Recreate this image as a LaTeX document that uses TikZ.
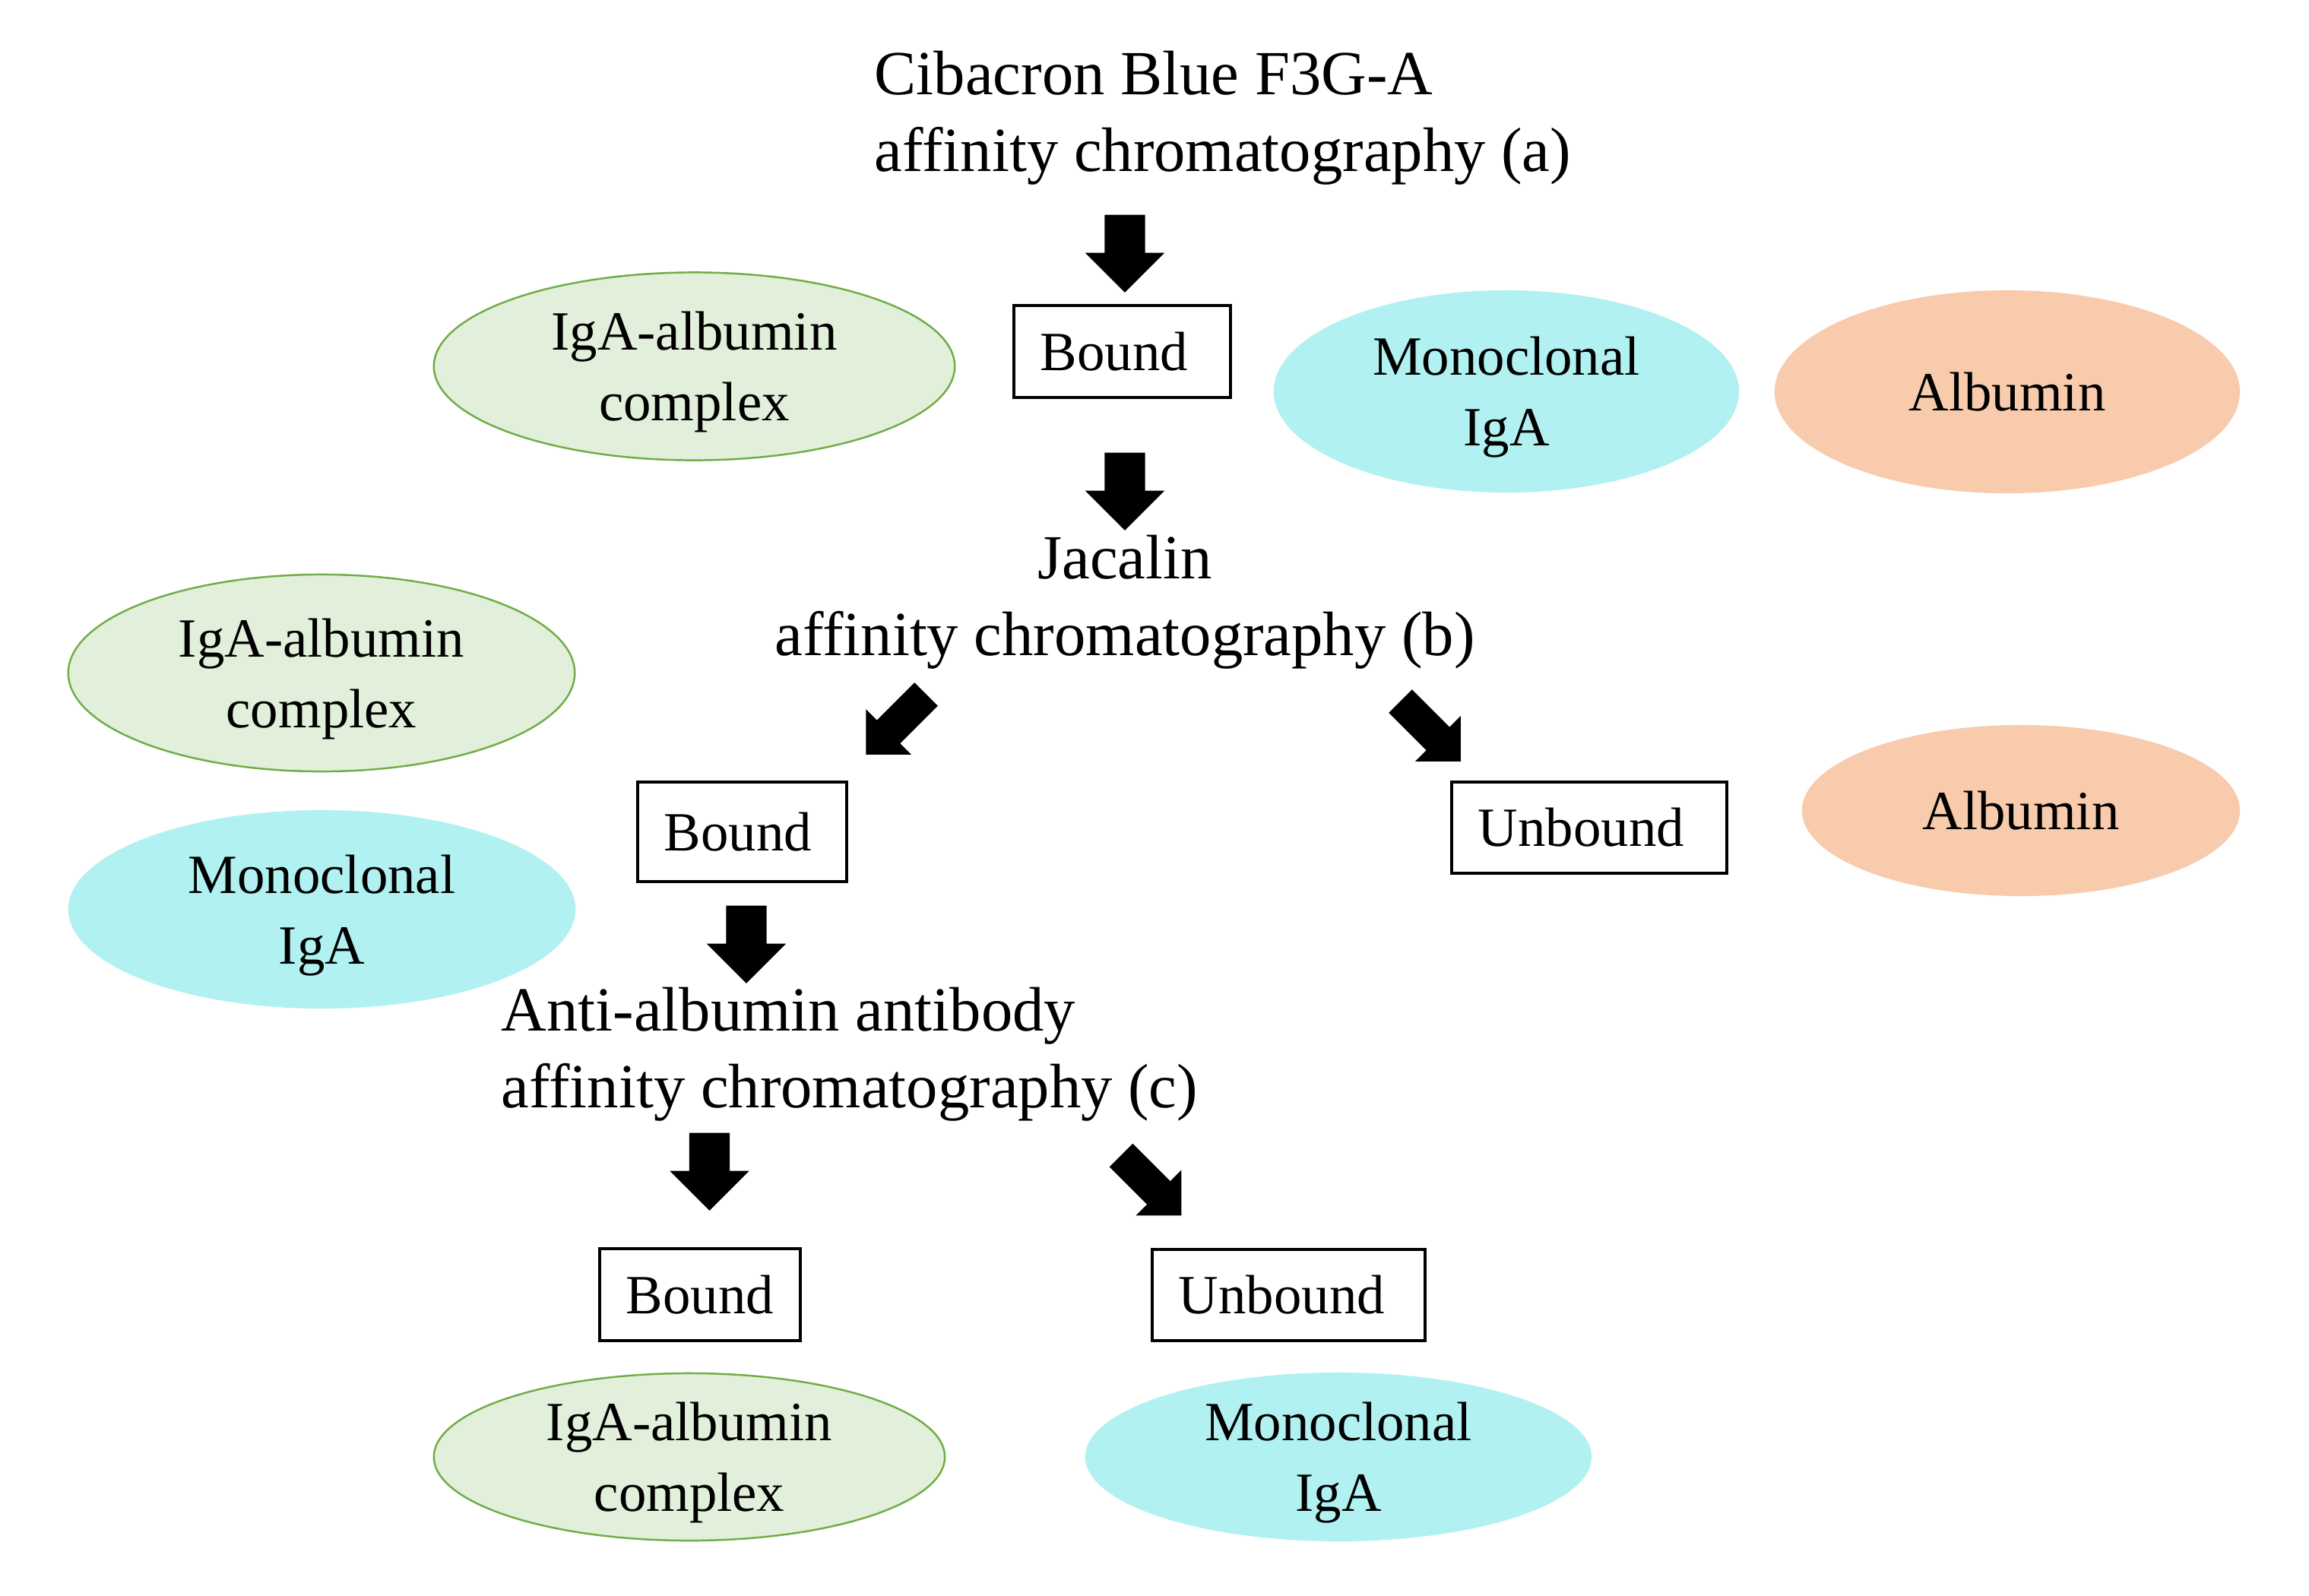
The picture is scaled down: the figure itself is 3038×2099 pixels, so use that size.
\documentclass[tikz,border=0pt]{standalone}
\usepackage{fontspec}
\setmainfont{Liberation Serif}
\usepackage{tikz}
\usetikzlibrary{positioning}
\usetikzlibrary{shapes.geometric,shapes.arrows}

\definecolor{cplxfill}{HTML}{E2EFDA}
\definecolor{cplxline}{HTML}{70AD47}
\definecolor{igafill}{HTML}{B2F1F1}
\definecolor{albfill}{HTML}{F8CBAD}

\begin{document}
\begin{tikzpicture}[x=0.01cm,y=-0.01cm,
  title text/.style={inner sep=0pt,font=\fontsize{23.5}{28.5}\selectfont},
  frac box/.style={draw,line width=1.1pt,inner xsep=0.35cm,inner ysep=0pt,align=left,
    font=\fontsize{20.7}{26.5}\selectfont},
  spot/.style={ellipse,inner sep=0pt,align=center,font=\fontsize{20.7}{26.5}\selectfont},
  cplx/.style={spot,fill=cplxfill,draw=cplxline,line width=0.7pt,text depth=0pt},
  iga/.style={spot,fill=igafill,text depth=0pt},
  alb/.style={spot,fill=albfill},
  down arrow/.style={single arrow,fill=black,draw=none,inner xsep=0pt,inner ysep=0.26cm,
    single arrow head extend=0.255cm,single arrow tip angle=90,single arrow head indent=0pt,
    minimum height=1.02cm,rotate=-90,anchor=tail},
  side arrow/.style={single arrow,fill=black,draw=none,inner xsep=0pt,inner ysep=0.21cm,
    single arrow head extend=0.205cm,single arrow tip angle=90,single arrow head indent=0pt,
    minimum height=1.12cm,rotate=#1,anchor=tail}]
\useasboundingbox (0,0) rectangle (3038,2099);

% column steps (base = last line)
\node[title text,anchor=base west,align=left] at (1150,225) (ColA) {Cibacron Blue F3G-A\\affinity chromatography (a)};
\node[title text,anchor=base,align=center] at (1480,862) (ColB) {Jacalin\\affinity chromatography (b)};
\node[title text,anchor=base west,align=left] at (659,1457) (ColC) {Anti-albumin antibody\\affinity chromatography (c)};

% fractions
\node[frac box,text width=2.15cm,minimum height=1.21cm] at (1476.5,462.5) (Bone) {Bound};
\node[frac box,text width=2.05cm,minimum height=1.31cm] at (976.5,1094.5) (Btwo) {Bound};
\node[frac box,text width=2.92cm,minimum height=1.20cm] at (2091,1089) (Utwo) {Unbound};
\node[frac box,text width=1.94cm,minimum height=1.21cm] at (921,1703.5) (Bthree) {Bound};
\node[frac box,text width=2.89cm,minimum height=1.20cm] at (1695.5,1704) (Uthree) {Unbound};

% contents
\node[cplx,minimum width=6.85cm,minimum height=2.47cm] at (913.5,482) (Cone) {IgA-albumin\\complex};
\node[iga,minimum width=6.12cm,minimum height=2.66cm] at (1982,515) (Mone) {Monoclonal\\IgA};
\node[alb,minimum width=6.12cm,minimum height=2.67cm] at (2641,515.5) (Lone) {Albumin};
\node[cplx,minimum width=6.66cm,minimum height=2.59cm] at (423,885.5) (Ctwo) {IgA-albumin\\complex};
\node[iga,minimum width=6.67cm,minimum height=2.61cm] at (423.5,1196.5) (Mtwo) {Monoclonal\\IgA};
\node[alb,minimum width=5.76cm,minimum height=2.25cm] at (2659,1066.5) (Ltwo) {Albumin};
\node[cplx,minimum width=6.72cm,minimum height=2.20cm] at (907,1917) (Cthree) {IgA-albumin\\complex};
\node[iga,minimum width=6.66cm,minimum height=2.22cm] at (1761,1917) (Mthree) {Monoclonal\\IgA};

% block arrows
\node[down arrow] at (1480,282) (Aone) {};
\node[down arrow] at (1480,595) (Atwo) {};
\node[side arrow=-135] at (1219,913) (Dleft) {};
\node[side arrow=-45] at (1842,922) (Dright) {};
\node[down arrow] at (982,1191) (Athree) {};
\node[down arrow] at (933.5,1490) (Afour) {};
\node[side arrow=-45] at (1474.5,1519.5) (Dlow) {};
\end{tikzpicture}
\end{document}
